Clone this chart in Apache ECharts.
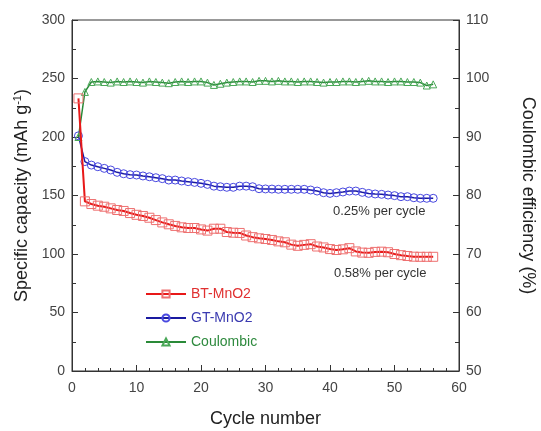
<!DOCTYPE html>
<html>
<head>
<meta charset="utf-8">
<script src="https://cdn.jsdelivr.net/npm/echarts@6/dist/echarts.min.js"></script>
<style>html,body{margin:0;padding:0;background:#fff}#c{width:541px;height:431px}</style>
</head>
<body>
<div id="c"></div>
<script>
var cycles = [1,2,3,4,5,6,7,8,9,10,11,12,13,14,15,16,17,18,19,20,21,22,23,24,25,26,27,28,29,30,31,32,33,34,35,36,37,38,39,40,41,42,43,44,45,46,47,48,49,50,51,52,53,54,55,56];
var btMnO2 = [233,145,142.7,141.3,140.4,139,137.6,136.8,135,133.5,132.5,131,129,127,125.4,124,122.8,122.2,122.2,121,120,121.6,121.6,118.8,118.2,118,115.8,114.4,113.4,112.8,112,110.8,110,108,107,107.8,108.4,106.4,105.6,104.2,103.4,104,105,102.2,101.2,101,101.8,102,101.5,100,99,98.3,97.7,97.6,97.6,97.6];
var gtMnO2 = [201,179,176,174.6,173.2,171.8,169.8,168.6,167.8,167.5,166.7,166,165.2,164.4,163.2,163.2,162.4,161.8,161.2,160.4,159.5,158,157.5,157,157,158,158,157.5,155.8,155.6,155.5,155.3,155.3,155.3,155.3,155.3,154.7,153.8,152.4,151.8,152.4,153,153.8,153.8,152.7,151.8,151.3,151,150.4,149.9,149,149,148.1,147.6,147.6,147.6];
var coulombic = [90,97.7,99.4,99.5,99.4,99.3,99.5,99.4,99.5,99.4,99.3,99.5,99.4,99.3,99.2,99.4,99.5,99.4,99.5,99.5,99.3,98.9,99.1,99.3,99.4,99.5,99.5,99.4,99.6,99.6,99.5,99.6,99.5,99.5,99.4,99.5,99.5,99.4,99.3,99.4,99.4,99.5,99.5,99.4,99.5,99.6,99.5,99.5,99.4,99.5,99.5,99.4,99.4,99.3,98.8,99.0];
var xTicks = [0,10,20,30,40,50,60];
var leftTicks = [0,50,100,150,200,250,300];
var rightTicks = [50,60,70,80,90,100,110];

function pairs(v){ return cycles.map(function(c,i){ return [c, v[i]]; }); }

var axisCol = '#333';
var labCol = '#444';
var FONT = 'Liberation Sans, Arial, sans-serif';

var chart = echarts.init(document.getElementById('c'), null, {renderer:'canvas'});
chart.setOption({
  backgroundColor: '#fff',
  animation: false,
  textStyle: {fontFamily: FONT},
  grid: {left: 72, right: 82, top: 20, bottom: 60, show: true, borderColor: axisCol, borderWidth: 1, backgroundColor: 'transparent', containLabel: false, outerBoundsMode: 'none'},
  legend: {
    orient: 'vertical', left: 140, top: 282, itemWidth: 40, itemHeight: 9, itemGap: 10,
    textStyle: {fontSize: 14, fontFamily: FONT},
    data: [
      {name: 'BT-MnO2', textStyle: {color: '#e03030'}},
      {name: 'GT-MnO2', textStyle: {color: '#3a3ab0'}},
      {name: 'Coulombic', textStyle: {color: '#2e8a3e'}}
    ]
  },
  xAxis: {
    type: 'value', min: xTicks[0], max: xTicks[xTicks.length-1], interval: 10,
    name: 'Cycle number', nameLocation: 'middle', nameGap: 39,
    nameTextStyle: {fontSize: 18, color: '#222', fontFamily: FONT},
    axisLine: {show: true, lineStyle: {color: axisCol}},
    axisTick: {show: true, inside: true, length: 6, lineStyle: {color: axisCol}},
    minorTick: {show: true, splitNumber: 5, length: 3, lineStyle: {color: axisCol}},
    axisLabel: {fontSize: 14, color: labCol, margin: 10, fontFamily: FONT},
    splitLine: {show: false}
  },
  yAxis: [{
    type: 'value', min: leftTicks[0], max: leftTicks[leftTicks.length-1], interval: 50,
    name: '{a|Specific capacity (mAh g}{s|-1}{a|)}', nameLocation: 'middle', nameGap: 39,
    nameTextStyle: {rich: {a: {fontSize: 18, color: '#222', fontFamily: FONT}, s: {fontSize: 11, color: '#222', verticalAlign: 'top', padding: [0,0,8,0], fontFamily: FONT}}},
    axisLine: {show: true, lineStyle: {color: axisCol}},
    axisTick: {show: true, inside: true, length: 6, lineStyle: {color: axisCol}},
    minorTick: {show: true, splitNumber: 2, length: 4, lineStyle: {color: axisCol}},
    axisLabel: {fontSize: 14, color: labCol, margin: 7, fontFamily: FONT},
    splitLine: {show: false}
  }, {
    type: 'value', position: 'right', min: rightTicks[0], max: rightTicks[rightTicks.length-1], interval: 10,
    name: 'Coulombic efficiency (%)', nameLocation: 'middle', nameGap: 60, nameRotate: -90,
    nameTextStyle: {fontSize: 18, color: '#222', fontFamily: FONT},
    axisLine: {show: true, lineStyle: {color: axisCol}},
    axisTick: {show: true, inside: true, length: 6, lineStyle: {color: axisCol}},
    minorTick: {show: true, splitNumber: 2, length: 4, lineStyle: {color: axisCol}},
    axisLabel: {fontSize: 14, color: labCol, margin: 7, fontFamily: FONT},
    splitLine: {show: false}
  }],
  series: [{
    name: 'BT-MnO2', type: 'line', yAxisIndex: 0, data: pairs(btMnO2),
    symbol: 'rect', symbolSize: 9,
    lineStyle: {color: '#e81818', width: 2},
    itemStyle: {color: 'rgba(255,255,255,0)', borderColor: '#ee7070', borderWidth: 1},
    z: 3
  }, {
    name: 'GT-MnO2', type: 'line', yAxisIndex: 0, data: pairs(gtMnO2),
    symbol: 'circle', symbolSize: 8,
    lineStyle: {color: '#1a1aa0', width: 1.5},
    itemStyle: {color: 'rgba(255,255,255,0)', borderColor: '#4848e0', borderWidth: 1},
    z: 2
  }, {
    name: 'Coulombic', type: 'line', yAxisIndex: 1, data: pairs(coulombic),
    symbol: 'triangle', symbolSize: 7,
    lineStyle: {color: '#2a8a38', width: 1.5},
    itemStyle: {color: 'rgba(255,255,255,0)', borderColor: '#4aa858', borderWidth: 1},
    z: 2
  }],
  graphic: [
    {type: 'text', left: 333, top: 205, style: {text: '0.25% per cycle', fontSize: 13, fill: '#333', fontFamily: FONT}},
    {type: 'text', left: 334, top: 267, style: {text: '0.58% per cycle', fontSize: 13, fill: '#333', fontFamily: FONT}}
  ]
});
</script>
</body>
</html>
